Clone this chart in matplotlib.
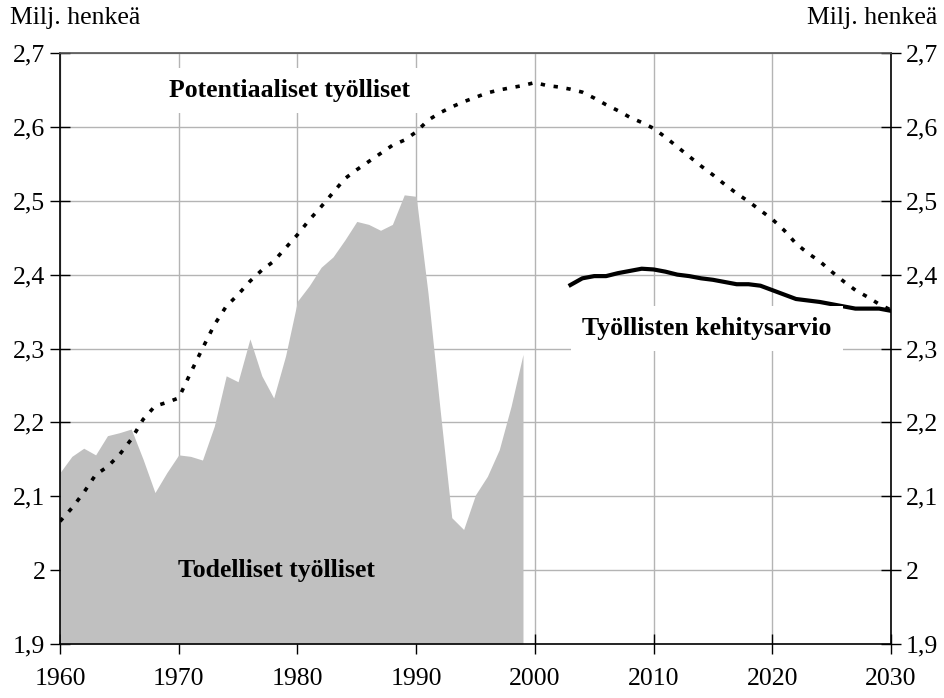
import matplotlib
matplotlib.use("Agg")
import matplotlib.pyplot as plt
from matplotlib.ticker import FuncFormatter
import numpy as np

plt.rcParams['font.family'] = ['Liberation Serif', 'DejaVu Serif']

# todelliset työlliset 1960-1999 (milj.)
years_actual = list(range(1960, 2000))
actual = [2.132, 2.154, 2.165, 2.156, 2.182, 2.186, 2.191, 2.150, 2.105, 2.132,
          2.156, 2.154, 2.149, 2.195, 2.263, 2.255, 2.313, 2.263, 2.233, 2.290,
          2.364, 2.385, 2.410, 2.424, 2.447, 2.472, 2.468, 2.460, 2.468, 2.508,
          2.506, 2.375, 2.220, 2.071, 2.055, 2.102, 2.127, 2.163, 2.222, 2.292]

# potentiaaliset työlliset 1960-2030
years_pot = list(range(1960, 2031))
potential = [2.066, 2.084, 2.105, 2.129, 2.140, 2.156, 2.177, 2.204, 2.222, 2.227,
             2.233, 2.267, 2.300, 2.332, 2.357, 2.373, 2.391, 2.406, 2.418, 2.436,
             2.454, 2.474, 2.492, 2.511, 2.530, 2.542, 2.553, 2.564, 2.575, 2.582,
             2.593, 2.609, 2.619, 2.627, 2.634, 2.640, 2.646, 2.650, 2.653, 2.656,
             2.660, 2.656, 2.654, 2.651, 2.647, 2.639, 2.630, 2.622, 2.613, 2.606,
             2.598, 2.586, 2.573, 2.560, 2.547, 2.535, 2.522, 2.510, 2.499, 2.487,
             2.475, 2.460, 2.442, 2.429, 2.418, 2.404, 2.391, 2.379, 2.370, 2.360,
             2.352]

# työllisten kehitysarvio 2003-2030
years_fc = list(range(2003, 2031))
forecast = [2.386, 2.395, 2.398, 2.398, 2.402, 2.405, 2.408, 2.407, 2.404, 2.400,
            2.398, 2.395, 2.393, 2.390, 2.387, 2.387, 2.385, 2.379, 2.373, 2.367,
            2.365, 2.363, 2.360, 2.357, 2.354, 2.354, 2.354, 2.351]

xticks = list(range(1960, 2031, 10))
yticks = [1.9, 2.0, 2.1, 2.2, 2.3, 2.4, 2.5, 2.6, 2.7]

fs = 18.5

fig = plt.figure(figsize=(9.44, 6.98), dpi=100)
ax = fig.add_axes([60/944, 54/698, 831/944, 591/698])

ax.fill_between(years_actual, actual, 1.9, color='#c0c0c0', lw=0, zorder=2)
ax.plot(years_pot, potential, color='black', lw=2.6,
        linestyle=(0, (1.2, 2.4)), zorder=3)
ax.plot(years_fc, forecast, color='black', lw=3, zorder=3)

ax.set_xlim(1960, 2030)
ax.set_ylim(1.9, 2.7)
ax.set_xticks(xticks)
ax.set_yticks(yticks)
ax.grid(True, color='#b4b4b4', lw=1, zorder=1)
ax.set_axisbelow(True)

fmt = FuncFormatter(lambda v, p: ('%g' % round(v, 1)).replace('.', ','))
ax.yaxis.set_major_formatter(fmt)
ax.tick_params(axis='y', which='both', direction='inout', length=15, width=1,
               left=True, right=True, labelleft=True, labelright=True,
               labelsize=fs, pad=3)
ax.tick_params(axis='x', direction='inout', length=15, width=1,
               labelsize=fs, pad=10)

for s in ['left', 'right', 'bottom']:
    ax.spines[s].set_color('black')
    ax.spines[s].set_linewidth(1.2)
ax.spines['top'].set_color('#555555')
ax.spines['top'].set_linewidth(1.2)

fig.text(10/944, 1 - 18/698, 'Milj. henkeä', fontsize=fs, ha='left', va='center')
fig.text(937/944, 1 - 18/698, 'Milj. henkeä', fontsize=fs, ha='right', va='center')

ax.text(1979.3, 2.649, 'Potentiaaliset työlliset', fontsize=fs, fontweight='bold',
        ha='center', va='center', zorder=4,
        bbox=dict(facecolor='white', edgecolor='none', pad=8))
ax.text(1978.2, 1.903 + (644 - 573) / 740, 'Todelliset työlliset', fontsize=fs,
        fontweight='bold', ha='center', va='center', zorder=4)
ax.text(2014.5, 2.327, 'Työllisten kehitysarvio', fontsize=fs, fontweight='bold',
        ha='center', va='center', zorder=4,
        bbox=dict(facecolor='white', edgecolor='none', pad=8))

fig.savefig('out.png', dpi=100)
